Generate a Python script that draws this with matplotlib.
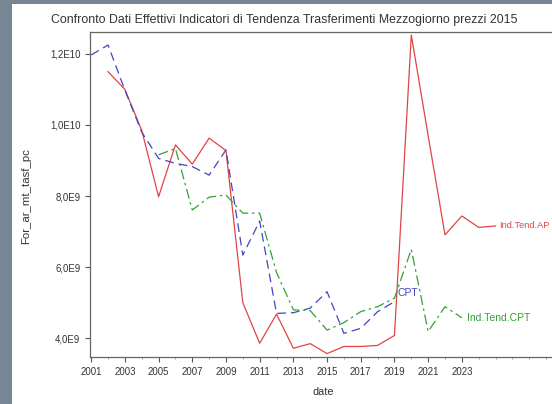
import numpy as np
import matplotlib
matplotlib.use('Agg')
import matplotlib.pyplot as plt
from matplotlib.patches import Rectangle
from matplotlib.ticker import FixedLocator, MultipleLocator

# data (values in units of 1E9)
years_a = list(range(2002, 2026))
ind_tend_a = [11.5, 11.0, 9.85, 7.98, 9.44, 8.9, 9.63, 9.28, 5.0, 3.86, 4.68, 3.72,
              3.85, 3.57, 3.77, 3.77, 3.8, 4.08, 12.53, 9.7, 6.91, 7.44, 7.12, 7.16]

years_cpt = list(range(2001, 2020))
cpt = [11.97, 12.25, 10.98, 9.8, 9.06, 8.92, 8.83, 8.59, 9.3, 6.34, 7.3, 4.7,
       4.72, 4.85, 5.31, 4.14, 4.28, 4.75, 5.03]

years_tcpt = list(range(2005, 2024))
ind_tend_cpt = [9.16, 9.34, 7.61, 7.97, 8.03, 7.52, 7.52, 5.85, 4.8, 4.78, 4.23,
                4.44, 4.75, 4.89, 5.13, 6.5, 4.19, 4.89, 4.58]

ytick_vals = [4e9, 6e9, 8e9, 1e10, 1.2e10]
ytick_labels = ['4,0E9', '6,0E9', '8,0E9', '1,0E10', '1,2E10']
xtick_vals = list(range(2001, 2024, 2))

title = 'Confronto Dati Effettivi Indicatori di Tendenza Trasferimenti Mezzogiorno prezzi 2015'

plt.rcParams['font.family'] = ['Liberation Sans', 'DejaVu Sans']

W, H = 552, 404
fig = plt.figure(figsize=(W / 100, H / 100), dpi=100)
fig.patch.set_facecolor('#778694')
# white panel inside the grey frame
fig.patches.append(Rectangle((12 / W, 0), 1, 1 - 4 / H, transform=fig.transFigure,
                             facecolor='white', edgecolor='none', zorder=-10))

# axes run past the right edge of the picture (the original is cropped)
ax = fig.add_axes([89.5 / W, 47 / H, 490.3 / W, 325.3 / H])
ax.set_zorder(5)
ax.set_xlim(2000.9, 2030)
ax.set_ylim(3.474e9, 12.624e9)

red, blue, green = '#e04444', '#4444c4', '#35a035'
sc = 1e9
ax.plot(years_a, np.array(ind_tend_a) * sc, color=red, lw=0.9)
ax.plot(years_cpt, np.array(cpt) * sc, color=blue, lw=0.9, dashes=(7, 4))
ax.plot(years_tcpt, np.array(ind_tend_cpt) * sc, color=green, lw=0.9,
        dashes=(8, 3, 2, 3))

ax.annotate('Ind.Tend.AP', (years_a[-1], ind_tend_a[-1] * sc), xytext=(2.5, 0),
            textcoords='offset points', color=red, fontsize=6.7, va='center',
            annotation_clip=False)
ax.annotate('CPT', (years_cpt[-1], cpt[-1] * sc), xytext=(2, 6),
            textcoords='offset points', color=blue, fontsize=7.5, va='center')
ax.annotate('Ind.Tend.CPT', (years_tcpt[-1], ind_tend_cpt[-1] * sc), xytext=(4, 0),
            textcoords='offset points', color=green, fontsize=7.5, va='center')

ax.yaxis.set_major_locator(FixedLocator(ytick_vals))
ax.set_yticklabels(ytick_labels)
ax.xaxis.set_major_locator(FixedLocator(xtick_vals))
ax.set_xticklabels([str(y) for y in xtick_vals])
ax.xaxis.set_minor_locator(MultipleLocator(1))

ax.tick_params(axis='both', which='major', labelsize=6.9, length=3.5, width=0.8,
               color='#555555', labelcolor='#333333')
ax.tick_params(axis='x', which='major', pad=4)
ax.tick_params(axis='y', which='major', pad=3)
ax.tick_params(axis='x', which='minor', length=1.5, width=0.6, color='#888888')

for side in ['left', 'bottom', 'top']:
    ax.spines[side].set_color('#666666')
    ax.spines[side].set_linewidth(0.9)
ax.spines['right'].set_visible(False)

ax.set_xlabel('date', fontsize=7.8, color='#333333', va='center')
ax.xaxis.set_label_coords((323 - 89.5) / 490.3, (357 - 391.7) / 325.3)
ax.set_ylabel('For_ar_mt_tasf_pc', fontsize=8.2, color='#333333', va='center')
ax.yaxis.set_label_coords((26 - 89.5) / 490.3, (357 - 196) / 325.3)

fig.text(284 / W, 1 - 20 / H, title, ha='center', va='center', fontsize=8.9,
         color='#333333')

fig.savefig('out.png', dpi=100)
